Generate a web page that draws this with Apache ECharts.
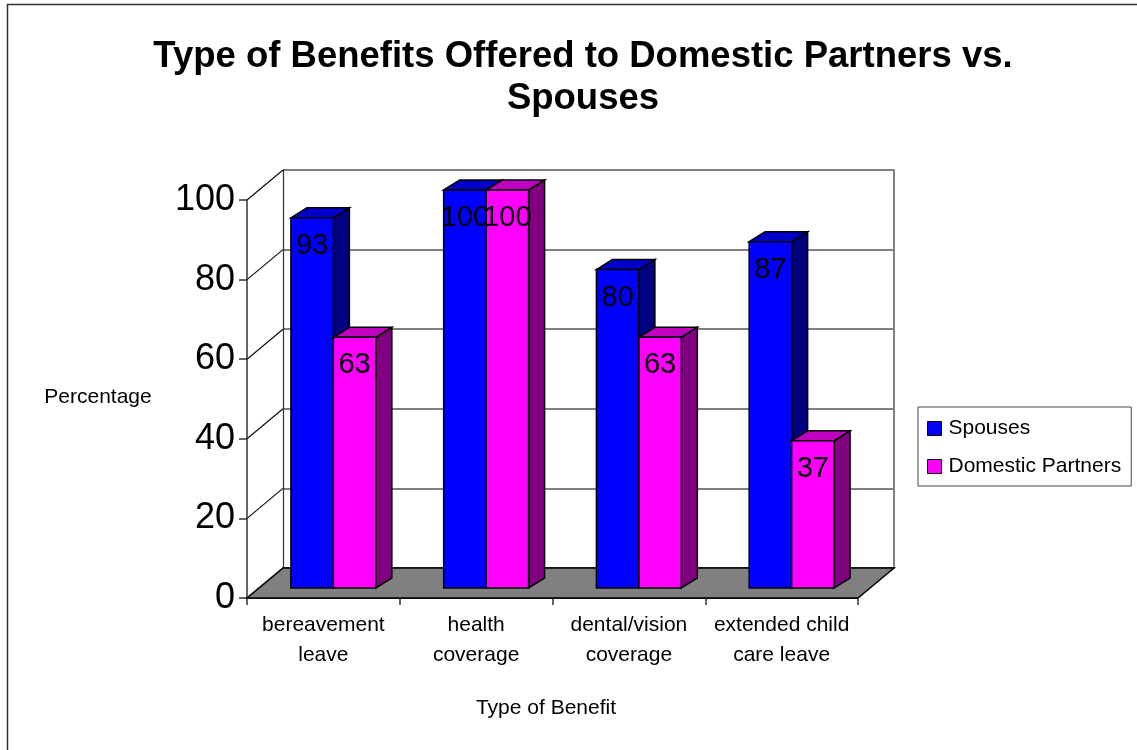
<!DOCTYPE html>
<html>
<head>
<meta charset="utf-8">
<script src="https://cdn.jsdelivr.net/npm/echarts@6/dist/echarts.min.js"></script>
<style>html,body{margin:0;padding:0;background:#fff;}#c{width:1137px;height:750px;}</style>
</head>
<body>
<div id="c"></div>
<script>
const categories = ['bereavement\nleave', 'health\ncoverage', 'dental/vision\ncoverage', 'extended child\ncare leave'];
const seriesNames = ['Spouses', 'Domestic Partners'];
const spouses = [93, 100, 80, 87];
const partners = [63, 100, 63, 37];
const yTicks = [0, 20, 40, 60, 80, 100];

const FONT = "'Liberation Sans', Arial, sans-serif";
const FRONT = {left: 247, top: 200, width: 611, height: 398};
const BACK = {left: 283, top: 170, width: 611, height: 398};
const PLANE = {left: 257, top: 190, width: 611, height: 398};

const COLORS = [
  {front: '#0000FF', side: '#000080', top: '#0000C8'},
  {front: '#FF00FF', side: '#800080', top: '#C000C0'}
];

function makeRender(si) {
  const col = COLORS[si];
  return function (params, api) {
    const c = api.coord([api.value(0), api.value(1)]);
    const b = api.coord([api.value(0), 0]);
    const band = api.size([1, 0])[0];
    const w = band * 0.278;
    const xl = c[0] - w + si * w;
    const xr = xl + w;
    const yt = c[1], yb = b[1];
    const dx = 16, dy = -10;
    return {
      type: 'group',
      children: [
        {type: 'polygon', shape: {points: [[xr, yt], [xr + dx, yt + dy], [xr + dx, yb + dy], [xr, yb]]},
         style: {fill: col.side, stroke: '#000', lineWidth: 1.5}},
        {type: 'polygon', shape: {points: [[xl, yt], [xl + dx, yt + dy], [xr + dx, yt + dy], [xr, yt]]},
         style: {fill: col.top, stroke: '#000', lineWidth: 1.5}},
        {type: 'rect', shape: {x: xl, y: yt, width: w, height: yb - yt},
         style: {fill: col.front, stroke: '#000', lineWidth: 1.5}},
        {type: 'text', x: (xl + xr) / 2, y: yt + 28,
         style: {text: String(api.value(1)), fill: '#000', fontSize: 29, fontFamily: FONT,
                 align: 'center', verticalAlign: 'middle'}}
      ]
    };
  };
}

const chart = echarts.init(document.getElementById('c'), null, {renderer: 'canvas'});
const option = {
  animation: false,
  backgroundColor: '#fff',
  title: {
    text: 'Type of Benefits Offered to Domestic Partners vs.\nSpouses',
    left: 578, top: 31, textAlign: 'center',
    textStyle: {fontFamily: FONT, fontSize: 36.5, fontWeight: 'bold', color: '#000', lineHeight: 42}
  },
  legend: {
    orient: 'vertical', left: 918, top: 407,
    padding: [11, 10, 9, 9], itemGap: 17, itemWidth: 14, itemHeight: 14,
    borderColor: '#444', borderWidth: 1, selectedMode: false,
    textStyle: {fontFamily: FONT, fontSize: 21, color: '#000', padding: [0, 0, 0, 2]},
    data: [
      {name: seriesNames[0], icon: 'rect', itemStyle: {color: COLORS[0].front, borderColor: '#000', borderWidth: 1}},
      {name: seriesNames[1], icon: 'rect', itemStyle: {color: COLORS[1].front, borderColor: '#000', borderWidth: 1}}
    ]
  },
  grid: [
    Object.assign({containLabel: false}, FRONT),
    Object.assign({containLabel: false}, BACK),
    Object.assign({containLabel: false}, PLANE)
  ],
  xAxis: [
    {gridIndex: 0, type: 'category', data: categories, boundaryGap: true,
     axisLine: {show: true, lineStyle: {color: '#000', width: 1.5}},
     axisTick: {show: true, length: 7, alignWithLabel: false, lineStyle: {color: '#333', width: 1.5}},
     axisLabel: {fontFamily: FONT, fontSize: 21, color: '#000', lineHeight: 30, margin: 12, interval: 0}},
    {gridIndex: 1, type: 'category', data: categories, position: 'top',
     axisLine: {show: true, lineStyle: {color: '#333', width: 1.5}},
     axisTick: {show: false}, axisLabel: {show: false}},
    {gridIndex: 2, type: 'category', data: categories, show: false}
  ],
  yAxis: [
    {gridIndex: 0, type: 'value', min: 0, max: 100, interval: 20,
     axisLine: {show: true, lineStyle: {color: '#333', width: 1.5}},
     axisTick: {show: true, length: 8, lineStyle: {color: '#333', width: 1.5}},
     axisLabel: {fontFamily: FONT, fontSize: 36, color: '#000', margin: 12},
     splitLine: {show: false}},
    {gridIndex: 1, type: 'value', min: 0, max: 100, interval: 20,
     axisLine: {show: true, lineStyle: {color: '#333', width: 1.2}},
     axisTick: {show: false}, axisLabel: {show: false},
     splitLine: {show: true, lineStyle: {color: '#808080', width: 2}}},
    {gridIndex: 1, type: 'value', min: 0, max: 100, interval: 20, position: 'right',
     axisLine: {show: true, lineStyle: {color: '#808080', width: 2}},
     axisTick: {show: false}, axisLabel: {show: false}, splitLine: {show: false}},
    {gridIndex: 2, type: 'value', min: 0, max: 100, show: false}
  ],
  series: [
    {name: seriesNames[0], type: 'custom', xAxisIndex: 2, yAxisIndex: 3, z: 5,
     itemStyle: {color: COLORS[0].front},
     renderItem: makeRender(0), data: spouses.map((v, i) => [i, v])},
    {name: seriesNames[1], type: 'custom', xAxisIndex: 2, yAxisIndex: 3, z: 6,
     itemStyle: {color: COLORS[1].front},
     renderItem: makeRender(1), data: partners.map((v, i) => [i, v])}
  ]
};
chart.setOption(option);

// structural 3D decoration computed from the axes
function xEdges(axisIndex) {
  const x0 = chart.convertToPixel({xAxisIndex: axisIndex}, 0);
  const x1 = chart.convertToPixel({xAxisIndex: axisIndex}, 1);
  const xn = chart.convertToPixel({xAxisIndex: axisIndex}, categories.length - 1);
  const bw = x1 - x0;
  return [x0 - bw / 2, xn + bw / 2];
}
const fE = xEdges(0), bE = xEdges(1);
const yF = v => chart.convertToPixel({yAxisIndex: 0}, v);
const yB = v => chart.convertToPixel({yAxisIndex: 1}, v);

const graphics = [];
graphics.push({type: 'polygon', z: 1, silent: true,
  shape: {points: [[fE[0], yF(0)], [fE[1], yF(0)], [bE[1], yB(0)], [bE[0], yB(0)]]},
  style: {fill: '#808080', stroke: '#000', lineWidth: 1.5}});
yTicks.forEach(v => {
  graphics.push({type: 'line', z: 2, silent: true,
    shape: {x1: fE[0], y1: yF(v), x2: bE[0], y2: yB(v)},
    style: {stroke: '#111', lineWidth: 1.2}});
});
graphics.push({type: 'rect', z: 0, silent: true,
  shape: {x: 7.5, y: 4.5, width: 1300, height: 900},
  style: {fill: 'none', stroke: '#333', lineWidth: 1.5}});
graphics.push({type: 'text', z: 3, silent: true, x: 98, y: 397,
  style: {text: 'Percentage', fontFamily: FONT, fontSize: 21, fill: '#000', align: 'center', verticalAlign: 'middle'}});
graphics.push({type: 'text', z: 3, silent: true, x: 546, y: 708,
  style: {text: 'Type of Benefit', fontFamily: FONT, fontSize: 21, fill: '#000', align: 'center', verticalAlign: 'middle'}});
chart.setOption({graphic: graphics});
</script>
</body>
</html>
